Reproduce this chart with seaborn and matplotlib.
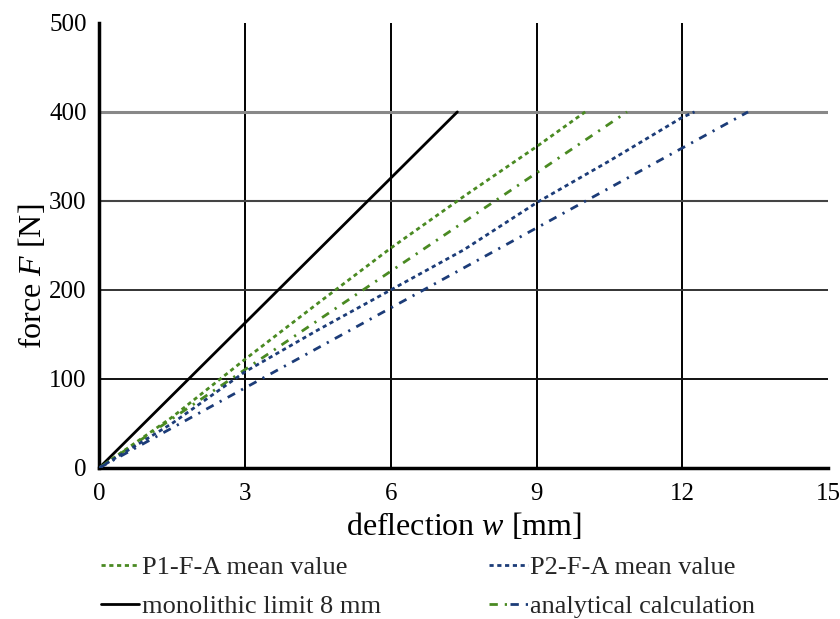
import matplotlib
matplotlib.use("Agg")
import matplotlib.pyplot as plt
import seaborn as sns
import pandas as pd
from matplotlib.legend_handler import HandlerTuple

# ---- data ----
p1_w = [0, 1.5, 3, 4.5, 6, 7.5, 9, 10.0]
p1_F = [0, 57, 122, 185, 247, 305, 361, 400]

p2_w = [0, 1.5, 3, 4.5, 6, 7.5, 9, 10.5, 12, 12.25]
p2_F = [0, 50, 108, 155, 200, 245, 298, 345, 394, 400]

mono_w = [0, 7.37]
mono_F = [0, 400]

an1_w = [0, 10.86]
an1_F = [0, 400]

an2_w = [0, 13.35]
an2_F = [0, 400]

x_ticks = [0, 3, 6, 9, 12, 15]
y_ticks = [0, 100, 200, 300, 400, 500]

labels = ["P1-F-A mean value", "P2-F-A mean value",
          "monolithic limit 8 mm", "analytical calculation"]

green = "#4a8a22"
blue = "#1c3c78"

sns.set_theme(style="white")
plt.rcParams["font.family"] = ["Liberation Serif", "DejaVu Serif"]
plt.rcParams["mathtext.fontset"] = "custom"
plt.rcParams["mathtext.rm"] = "Liberation Serif"
plt.rcParams["mathtext.it"] = "Liberation Serif:italic"

fig = plt.figure(figsize=(8.4, 6.19), dpi=100)
ax = fig.add_axes([0.118, 0.244, 0.868, 0.719])

# gridlines
for xv in x_ticks[1:-1]:
    ax.axvline(xv, color="black", lw=1.4, zorder=1)
for yv, c, lw in zip(y_ticks[1:-1], ["#111111", "#333333", "#444444", "#888888"], [1.4, 1.4, 1.5, 2.2]):
    ax.axhline(yv, color=c, lw=lw, zorder=1)

df_p1 = pd.DataFrame({"w": p1_w, "F": p1_F})
df_p2 = pd.DataFrame({"w": p2_w, "F": p2_F})
df_m = pd.DataFrame({"w": mono_w, "F": mono_F})
df_a1 = pd.DataFrame({"w": an1_w, "F": an1_F})
df_a2 = pd.DataFrame({"w": an2_w, "F": an2_F})

sns.lineplot(data=df_m, x="w", y="F", ax=ax, color="black", lw=2.0, zorder=3)
sns.lineplot(data=df_p1, x="w", y="F", ax=ax, color=green, lw=2.0, zorder=3)
sns.lineplot(data=df_a1, x="w", y="F", ax=ax, color=green, lw=2.0, zorder=3)
sns.lineplot(data=df_p2, x="w", y="F", ax=ax, color=blue, lw=2.0, zorder=3)
sns.lineplot(data=df_a2, x="w", y="F", ax=ax, color=blue, lw=2.0, zorder=3)

lines = ax.get_lines()[-5:]
l_m, l_p1, l_a1, l_p2, l_a2 = lines
for l in (l_p1, l_p2):
    l.set_dashes([1.5, 1.3])
for l in (l_a1, l_a2):
    l.set_dashes([3, 2.5, 0.8, 2.5])

ax.set_xlim(0, 15)
ax.set_ylim(0, 500)
ax.set_xticks(x_ticks)
ax.set_yticks(y_ticks)
ax.tick_params(axis="both", labelsize=18, length=4, width=1.5, color="black",
               direction="out", pad=7, labelcolor="black")
ax.tick_params(axis="y", pad=5)
for s in ("top", "right"):
    ax.spines[s].set_visible(False)
for s in ("left", "bottom"):
    ax.spines[s].set_color("black")
    ax.spines[s].set_linewidth(2.5)
ax.set_xlabel("deflection $w$ [mm]", fontsize=23, color="black", labelpad=4)
ax.set_ylabel("force $F$ [N]", fontsize=23, color="black")
ax.yaxis.set_label_coords(-0.07, 0.43)

handles = [l_p1, l_m, l_p2, (l_a1, l_a2)]
hlabels = [labels[0], labels[2], labels[1], labels[3]]
leg = fig.legend(handles, hlabels, loc="lower left", bbox_to_anchor=(0.092, -0.037),
                 ncol=2, frameon=False, fontsize=19, handlelength=1.45,
                 handletextpad=0.1, columnspacing=4.1, labelspacing=0.6,
                 handler_map={tuple: HandlerTuple(ndivide=None, pad=0.1)})

fig.savefig("out.png", dpi=100)
